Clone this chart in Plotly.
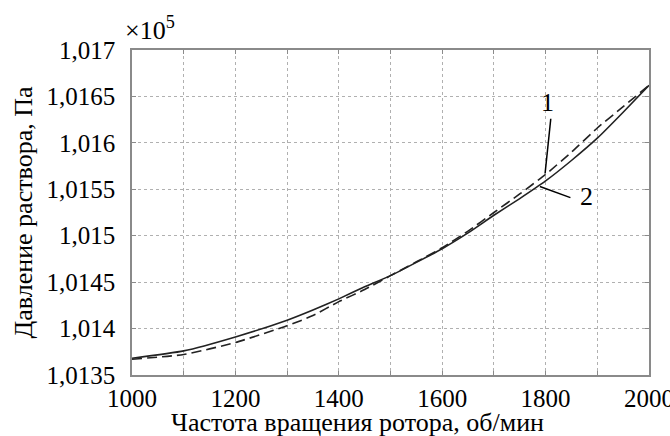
import plotly.graph_objects as go

rpm = [1000, 1100, 1200, 1300, 1350, 1400, 1450, 1500, 1600, 1650, 1700, 1750, 1800, 1850, 1900, 1950, 2000]
p1 = [1.01367, 1.01372, 1.01385, 1.01403, 1.01414, 1.01429, 1.01442, 1.01457, 1.01487, 1.01505, 1.01525, 1.01545, 1.01566, 1.01590, 1.01616, 1.01639, 1.01662]
p2 = [1.01368, 1.01376, 1.01391, 1.01409, 1.01420, 1.01432, 1.01445, 1.01457, 1.01486, 1.01503, 1.01522, 1.01540, 1.01559, 1.01581, 1.01605, 1.01633, 1.01662]

x_grid = [1000, 1100, 1200, 1300, 1400, 1500, 1600, 1700, 1800, 1900, 2000]
x_text = ["1000", "", "1200", "", "1400", "", "1600", "", "1800", "", "2000"]
y_ticks = [1.0135, 1.014, 1.0145, 1.015, 1.0155, 1.016, 1.0165, 1.017]
y_text = ["1,0135", "1,014", "1,0145", "1,015", "1,0155", "1,016", "1,0165", "1,017"]

FONT = "Liberation Serif, Times New Roman, serif"
FS = 25

fig = go.Figure()
fig.add_trace(go.Scatter(x=rpm, y=p1, mode="lines", name="1",
                         line=dict(color="#222222", width=1.6, dash="10px,5px", shape="spline", smoothing=0.5)))
fig.add_trace(go.Scatter(x=rpm, y=p2, mode="lines", name="2",
                         line=dict(color="#222222", width=1.6, shape="spline", smoothing=0.5)))

axis_common = dict(showline=True, linecolor="#8a8a8a", linewidth=1.5, mirror="ticks",
                   ticks="inside", ticklen=4, tickcolor="#8a8a8a",
                   showgrid=True, gridcolor="#b0b0b0", griddash="dot", gridwidth=1,
                   zeroline=False, automargin=False, ticklabeloverflow="allow",
                   tickfont=dict(family=FONT, size=FS, color="black"))

fig.update_layout(
    width=670, height=436,
    margin=dict(l=132, r=21, t=50, b=61),
    paper_bgcolor="white", plot_bgcolor="white",
    showlegend=False,
    font=dict(family=FONT, color="black"),
    xaxis=dict(range=[999.99, 2000.01], tickmode="array", tickvals=x_grid, ticktext=x_text,
               ticklabelstandoff=0, **axis_common),
    yaxis=dict(range=[1.0135, 1.017], tickmode="array", tickvals=y_ticks, ticktext=y_text,
               ticklabelstandoff=10,
               title=dict(text="Давление раствора, Па", font=dict(family=FONT, size=FS + 1), standoff=6),
               **axis_common),
)

# x-axis title (placed as in the reference, slightly left of plot centre)
fig.add_annotation(x=0.437, y=0, xref="paper", yref="paper", xanchor="center", yanchor="top",
                   yshift=-31, showarrow=False,
                   text="Частота вращения ротора, об/мин", font=dict(family=FONT, size=FS + 1, color="black"))

fig.add_annotation(x=0, y=1, xref="paper", yref="paper", xanchor="left", yanchor="bottom",
                   xshift=-9, yshift=3, showarrow=False,
                   text="×10<sup>5</sup>", font=dict(family=FONT, size=FS + 1, color="black"))

# curve labels with leader lines
fig.add_shape(type="line", xref="x", yref="y", x0=1799, y0=1.01567, x1=1810, y1=1.01626,
              line=dict(color="black", width=1.5))
fig.add_annotation(x=1803, y=1.01643, text="1", showarrow=False, yanchor="middle",
                   font=dict(family=FONT, size=FS + 1, color="black"))
fig.add_shape(type="line", xref="x", yref="y", x0=1789, y0=1.01553, x1=1848, y1=1.01541,
              line=dict(color="black", width=1.5))
fig.add_annotation(x=1880, y=1.01542, text="2", showarrow=False, yanchor="middle",
                   font=dict(family=FONT, size=FS + 1, color="black"))

fig.write_html("out.html", config={"displayModeBar": False},
               post_script="document.body.style.margin='0';")
